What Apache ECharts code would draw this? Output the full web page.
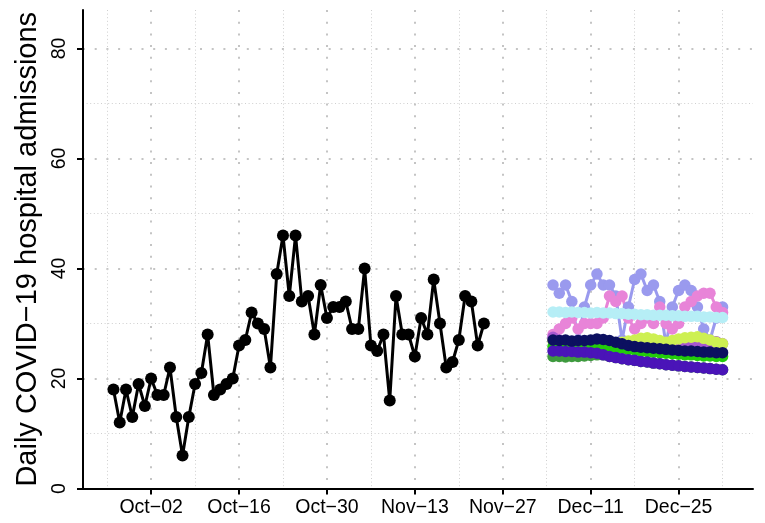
<!DOCTYPE html>
<html><head><meta charset="utf-8">
<script src="https://cdn.jsdelivr.net/npm/echarts@6/dist/echarts.min.js"></script>
<style>html,body{margin:0;padding:0;background:#fff}#c{width:765px;height:523px}</style>
</head><body><div id="c"></div>
<script>
// ---- data ----
const refDate = '2022-10-02';
const observedStart = '2022-09-26';
const observed = [18,12,18,13,19,15,20,17,17,22,13,6,13,19,21,28,17,18,19,20,
  26,27,32,30,29,22,39,46,35,46,34,35,28,37,31,33,33,34,29,29,
  40,26,25,28,16,35,28,28,24,31,28,38,30,22,23,27,35,34,26,30];
const forecastStart = '2022-12-05';
const fcPeriwinkle = [37,35.5,37,34,27,33,37,39,37,37,35,27,33,38,39,36,37,34,26,33,36,37,36,33,29,27,31,33];
const fcPink = [28,29,30,31,29,30,30,30,31,35,34,35,31,29,30,31,30,33,30,29,30,33,34,35,35.5,35.5,33,32];
const fcCyan = [32.1,32.1,32.0,32.1,32.0,32.0,31.9,32.0,31.9,31.9,31.8,31.8,31.7,31.7,31.6,31.6,31.5,31.5,31.5,31.4,31.4,31.3,31.3,31.3,31.2,31.2,31.1,31.1];
const fcPurple = [27.5,27.0,26.6,26.3,26.1,26.0,25.9,25.8,25.8,25.7,25.7,25.8,25.9,25.8,26.0,26.2,26.4,26.6,26.3,26.1,26.4,26.8,26.6,26.3,26.1,26.4,26.7,26.3];
const fcLime = [26.8,26.5,26.3,26.2,26.4,26.3,26.5,26.6,26.4,26.2,26.3,26.6,26.8,27.0,27.3,27.4,27.2,26.9,26.6,26.9,27.2,27.4,27.5,27.6,27.3,27.0,26.6,26.3];
const fcDarkGreen = [24.0,24.0,23.9,24.0,24.0,24.1,24.2,24.3,24.3,24.0,23.8,23.6,23.4,23.3,23.1,23.0,22.8,22.7,22.5,22.4,22.3,22.2,22.1,22.0,21.9,21.8,21.7,21.6];
const fcGreen = [25.8,25.8,25.7,25.8,25.8,25.7,25.8,25.9,25.8,25.7,25.6,25.5,25.3,25.2,25.0,24.9,24.8,24.7,24.6,24.5,24.4,24.3,24.3,24.2,24.1,24.1,24.0,24.0];
const fcIndigo = [25.0,25.0,24.9,24.9,24.8,24.8,24.7,24.6,24.3,24.0,23.8,23.6,23.4,23.3,23.1,23.0,22.8,22.7,22.5,22.4,22.3,22.2,22.1,22.0,21.9,21.8,21.7,21.6];
const fcNavy = [27.0,26.9,27.0,26.8,26.9,26.9,27.0,27.2,27.1,26.9,26.6,26.3,26.0,25.8,25.7,25.6,25.5,25.4,25.3,25.2,25.1,25.0,25.0,24.9,24.8,24.8,24.7,24.7];
const xTickDates = ['2022-10-02','2022-10-16','2022-10-30','2022-11-13','2022-11-27','2022-12-11','2022-12-25'];
const xTickLabels = ['Oct\u221202','Oct\u221216','Oct\u221230','Nov\u221213','Nov\u221227','Dec\u221211','Dec\u221225'];
const xMinorDates = ['2022-09-25','2022-10-09','2022-10-23','2022-11-06','2022-11-20','2022-12-04','2022-12-18','2023-01-01'];
const yTicks = [0,20,40,60,80];
const yMinor = [10,30,50,70];
const yTitle = 'Daily COVID\u221219 hospital admissions';

// ---- helpers ----
const dayOf = d => (Date.parse(d) - Date.parse(refDate)) / 864e5;
const toPts = (start, vals) => vals.map((v, i) => [dayOf(start) + i, v]);
const xTickDays = xTickDates.map(dayOf);
const xMinorDays = xMinorDates.map(dayOf);
const xMin = -10.85, xMax = 95.85;
const font = 'Liberation Sans, Arial, sans-serif';

const fc = [
  ['#9a9aee', fcPeriwinkle], ['#e884d8', fcPink], ['#b6eef6', fcCyan],
  ['#a858d0', fcPurple], ['#cdf052', fcLime], ['#3e9a3e', fcDarkGreen],
  ['#22cc0a', fcGreen], ['#4a14b8', fcIndigo], ['#0c1060', fcNavy]
];

const series = [];
series.push({type:'line', data: toPts(observedStart, observed), symbol:'circle', symbolSize:12,
  lineStyle:{color:'#000', width:3}, itemStyle:{color:'#000'}, z:3});
fc.forEach(([c, v]) => series.push({type:'line', data: toPts(forecastStart, v), showSymbol:false,
  lineStyle:{color:c, width:3}, itemStyle:{color:c}, z:2}));
fc.forEach(([c, v]) => series.push({type:'scatter', data: toPts(forecastStart, v), symbol:'circle',
  symbolSize:11.5, itemStyle:{color:c, opacity:1}, z:3}));

const chart = echarts.init(document.getElementById('c'), null, {renderer:'canvas'});
chart.setOption({
  animation:false,
  backgroundColor:'#fff',
  grid:{left:83, right:12, top:10, bottom:34.5, containLabel:false},
  xAxis:[
    {type:'value', min:xMin, max:xMax, position:'bottom',
     axisLine:{show:true, onZero:false, lineStyle:{color:'#000', width:2}},
     axisTick:{show:true, length:6, lineStyle:{color:'#000', width:2}, customValues:xTickDays},
     axisLabel:{customValues:xTickDays, formatter:v => xTickLabels[xTickDays.indexOf(Math.round(v))] || '',
       fontSize:19.5, color:'#000', margin:9, fontFamily:font},
     splitLine:{show:true, lineStyle:{color:'#c4c4c4', width:2, type:[2,9.7]}}},
    {type:'value', min:xMin, max:xMax, position:'top',
     axisLine:{show:false}, axisTick:{show:false, customValues:xMinorDays}, axisLabel:{show:false},
     splitLine:{show:true, lineStyle:{color:'#cfcfcf', width:1, type:[1,2.6]}}}
  ],
  yAxis:[
    {type:'value', min:0, max:87, position:'left',
     axisLine:{show:true, onZero:false, lineStyle:{color:'#000', width:2}},
     axisTick:{show:true, length:6, lineStyle:{color:'#000', width:2}, customValues:yTicks},
     axisLabel:{customValues:yTicks, rotate:90, fontSize:19.5, color:'#000', margin:13, fontFamily:font},
     splitLine:{show:true, lineStyle:{color:'#c4c4c4', width:2, type:[2,9.7]}},
     name:yTitle, nameLocation:'middle', nameRotate:90, nameGap:35,
     nameTextStyle:{fontSize:29, color:'#000', fontFamily:font}},
    {type:'value', min:0, max:87, position:'right',
     axisLine:{show:false}, axisTick:{show:false, customValues:yMinor}, axisLabel:{show:false},
     splitLine:{show:true, lineStyle:{color:'#cfcfcf', width:1, type:[1,2.6]}}}
  ],
  series
});
</script></body></html>
